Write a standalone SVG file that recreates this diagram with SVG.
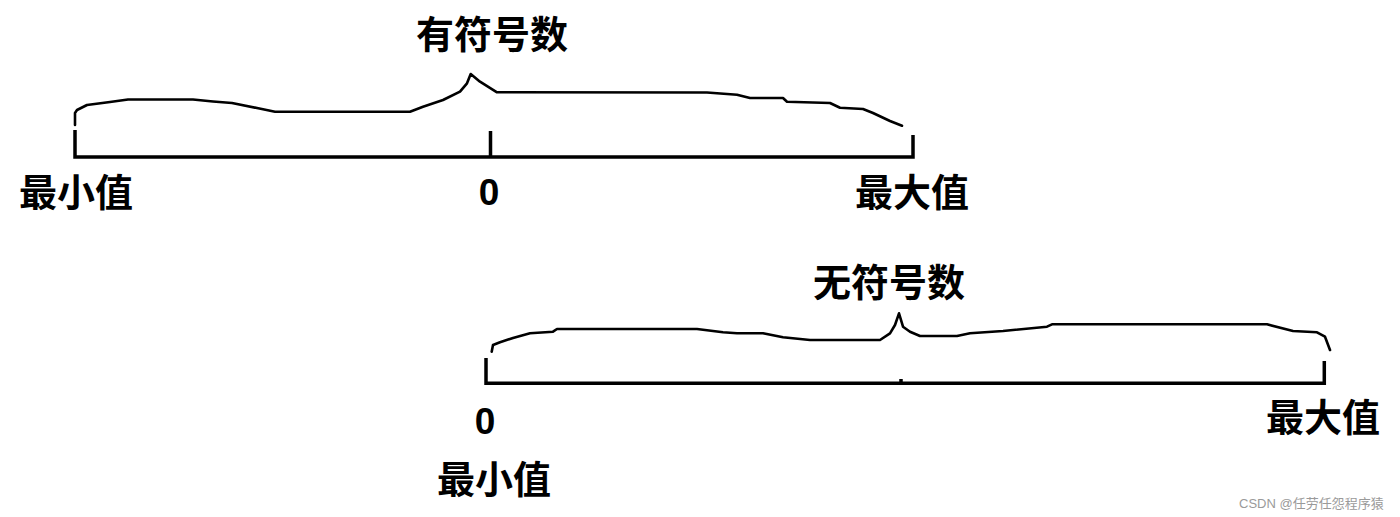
<svg xmlns="http://www.w3.org/2000/svg" width="1400" height="517" viewBox="0 0 1400 517">
<style>
.cjk{font-family:"Noto Sans CJK SC","Noto Sans CJK JP",sans-serif;font-weight:bold;font-size:38px;fill:#000}
.num{font-family:"Liberation Sans",Arial,sans-serif;font-weight:bold;font-size:37px;fill:#000}
.axis{stroke:#000;stroke-width:3.5;fill:none}
.brace{stroke:#000;stroke-width:2.6;fill:none;stroke-linejoin:round;stroke-linecap:round}
.wm{font-family:"Liberation Sans","Noto Sans CJK SC",sans-serif;font-size:13px;fill:#9a9a9a}
</style>
<rect width="1400" height="517" fill="#fff"/>
<g id="connectors">
<path class="axis" d="M75,130 V157 H913 V135 M490.5,131 V157"/>
<path class="brace" d="M75,125 L75,113 L77,110 L87,105 L110,102 L128,99.5 L193,99.5 L213,101.5 L232,103 L257,108 L275,111.7 L410,111.7 L423,106.7 L443,100 L460,91.7 L467,83.3 L470.7,74 L480,81.7 L497,92.3 L707,92.5 L737,94.7 L750,98 L783,98 L787,101.7 L830,103 L840,107.7 L863,109 L873,113 L890,121 L902,125.7"/>
<path class="axis" d="M486,358 V383.3 H1324.3 V361 M901,379 V383"/>
<path class="brace" d="M491.7,351.7 L493,345 L500,342.3 L513,338 L530,333.3 L553,331.7 L557,329 L697,329 L723,332.3 L737,333.3 L763,333.3 L783,337.3 L810,340 L880,340 L890,333.3 L895,325 L899,313.3 L903,326.7 L910,331.7 L920,336 L957,336 L970,333.3 L1003,331 L1047,326.7 L1052,324.3 L1267,324.3 L1293,331 L1317,332.3 L1325,336.7 L1330,350"/>
</g>
<g id="signed">
<text class="cjk" x="492" y="48" text-anchor="middle">有符号数</text>
<text class="cjk" x="76" y="206" text-anchor="middle">最小值</text>
<text class="num" x="489" y="205" text-anchor="middle">0</text>
<text class="cjk" x="912" y="206" text-anchor="middle">最大值</text>
</g>
<g id="unsigned">
<text class="cjk" x="889" y="296" text-anchor="middle">无符号数</text>
<text class="num" x="485" y="434" text-anchor="middle">0</text>
<text class="cjk" x="494" y="493" text-anchor="middle">最小值</text>
<text class="cjk" x="1323" y="431" text-anchor="middle">最大值</text>
</g>
<text class="wm" x="1239" y="508">CSDN @任劳任怨程序猿</text>
</svg>
